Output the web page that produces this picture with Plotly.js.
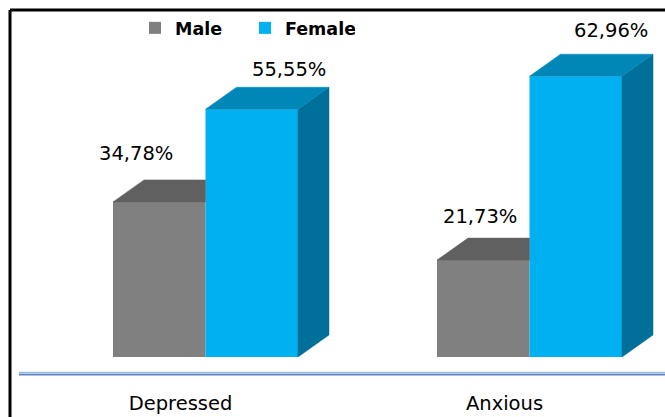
<!DOCTYPE html>
<html>
<head>
<meta charset="utf-8">
<script src="https://cdn.plot.ly/plotly-3.0.1.min.js"></script>
<style>
  html, body { margin: 0; padding: 0; background: #ffffff; }
  #chart { width: 665px; height: 417px; }
</style>
</head>
<body>
<div id="chart"></div>
<script>
// Share of respondents, by group and sex
const categories = ['Depressed', 'Anxious'];
const male = [34.78, 21.73];
const female = [55.55, 62.96];

// Page and plot-area geometry
const W = 665, H = 417;
const M = { l: 10, r: 0, t: 10, b: 60 };
const plotW = W - M.l - M.r;
const plotH = H - M.t - M.b;
const X_RANGE = [-0.6034, -0.6034 + plotW / 324];
const Y_RANGE = [0, 77.8];
const pxPerX = plotW / (X_RANGE[1] - X_RANGE[0]);
const pxPerY = plotH / (Y_RANGE[1] - Y_RANGE[0]);

// Column width (x units) and the 3-D depth offset, given in pixels
const BAR_W = 0.2855;
const DEPTH = { dx: 31 / pxPerX, dy: 22 / pxPerY };

const COLORS = {
  Male:   { front: '#808080', top: '#606060', side: '#4d4d4d' },
  Female: { front: '#00b0f0', top: '#0087b8', side: '#006f99' }
};

// Per-label nudges (px) for the value labels: [xshift, yshift]
const LABEL_NUDGE = {
  Male:   [[-23, 26], [-3, 22]],
  Female: [[37, 18], [35, 24]]
};

const FONT = 'DejaVu Sans, Liberation Sans, Arial, sans-serif';
const xs = categories.map((_, i) => i);

function fmt(v) {
  return v.toFixed(2).replace('.', ',') + '%';
}

function face(px, py, color) {
  return {
    type: 'scatter', mode: 'lines', x: px, y: py,
    fill: 'toself', fillcolor: color,
    line: { color: color, width: 0.5 },
    hoverinfo: 'skip', showlegend: false
  };
}

const traces = [
  {
    type: 'bar', name: 'Male', x: xs, y: male,
    offset: -BAR_W, width: BAR_W,
    marker: { color: COLORS.Male.front, line: { width: 0 } },
    hoverinfo: 'skip'
  },
  {
    type: 'bar', name: 'Female', x: xs, y: female,
    offset: 0, width: BAR_W,
    marker: { color: COLORS.Female.front, line: { width: 0 } },
    hoverinfo: 'skip'
  }
];

// Male column tops: the female column stands right in front of the
// male column's right-hand part, so the top face stops at that edge.
male.forEach((v, i) => {
  const xl = i - BAR_W, xr = i;
  traces.push(face(
    [xl, xr, xr, xl + DEPTH.dx, xl],
    [v, v, v + DEPTH.dy, v + DEPTH.dy, v],
    COLORS.Male.top));
});

// Female columns: right side face and top face
female.forEach((v, i) => {
  const xl = i, xr = i + BAR_W;
  traces.push(face(
    [xr, xr, xr + DEPTH.dx, xr + DEPTH.dx, xr],
    [0, v, v + DEPTH.dy, DEPTH.dy, 0],
    COLORS.Female.side));
  traces.push(face(
    [xl, xr, xr + DEPTH.dx, xl + DEPTH.dx, xl],
    [v, v, v + DEPTH.dy, v + DEPTH.dy, v],
    COLORS.Female.top));
});

// Value labels above each column
const annotations = [];
[['Male', male, -BAR_W / 2], ['Female', female, BAR_W / 2]].forEach(([name, vals, cx]) => {
  vals.forEach((v, i) => {
    annotations.push({
      x: i + cx, y: v + DEPTH.dy, xref: 'x', yref: 'y',
      text: fmt(v), showarrow: false,
      xanchor: 'center', yanchor: 'middle',
      xshift: LABEL_NUDGE[name][i][0], yshift: LABEL_NUDGE[name][i][1],
      font: { family: FONT, size: 19.5, color: '#000000' }
    });
  });
});

const axisY = -17 / plotH;
const layout = {
  width: W, height: H,
  margin: M,
  paper_bgcolor: '#ffffff', plot_bgcolor: 'rgba(0,0,0,0)',
  barmode: 'overlay',
  showlegend: true,
  legend: {
    orientation: 'h', x: 125 / plotW, xanchor: 'left', y: 1, yanchor: 'top',
    font: { family: FONT, size: 17.5, color: '#000000', weight: 'bold' },
    entrywidth: 65, entrywidthmode: 'pixels',
    bgcolor: 'rgba(0,0,0,0)', traceorder: 'normal'
  },
  xaxis: {
    range: X_RANGE, fixedrange: true,
    tickvals: xs, ticktext: categories,
    showgrid: false, zeroline: false, showline: false,
    ticks: '', ticklabelstandoff: 32, ticklabelshift: -25,
    tickfont: { family: FONT, size: 19.5, color: '#000000' }
  },
  yaxis: {
    range: Y_RANGE, fixedrange: true, visible: false
  },
  annotations: annotations,
  shapes: [
    // chart frame
    { type: 'line', xref: 'paper', yref: 'paper', x0: 0, x1: 0, y0: 1, y1: -0.3,
      line: { color: '#000000', width: 3 } },
    { type: 'line', xref: 'paper', yref: 'paper', x0: 0, x1: 1.05, y0: 1, y1: 1,
      line: { color: '#000000', width: 3 } },
    // floor edge
    { type: 'line', xref: 'paper', yref: 'paper', x0: 9 / plotW, x1: 1.05, y0: axisY + 1.2 / plotH, y1: axisY + 1.2 / plotH,
      line: { color: '#9dbbe0', width: 2 } },
    { type: 'line', xref: 'paper', yref: 'paper', x0: 9 / plotW, x1: 1.05, y0: axisY - 0.8 / plotH, y1: axisY - 0.8 / plotH,
      line: { color: '#5b86c0', width: 1.5 } }
  ]
};

Plotly.newPlot('chart', traces, layout, { staticPlot: true, displayModeBar: false });
</script>
</body>
</html>
